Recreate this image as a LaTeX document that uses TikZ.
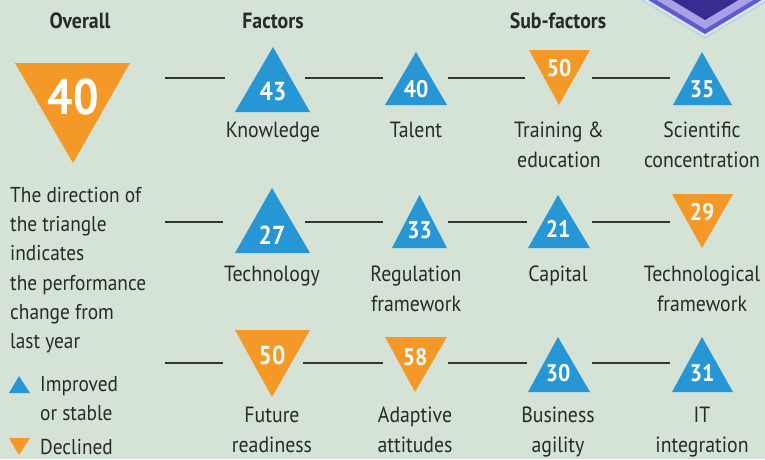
\documentclass[tikz,border=0pt]{standalone}
\usepackage{fontspec}
\setmainfont{PT Sans}[FakeStretch=0.9]
\definecolor{bg}{RGB}{213,227,215}
\definecolor{tblue}{RGB}{38,150,212}
\definecolor{torange}{RGB}{244,152,40}
\definecolor{txt}{RGB}{40,42,40}
\definecolor{linec}{RGB}{50,55,52}
\definecolor{dmcyan}{RGB}{150,220,225}
\definecolor{dmpale}{RGB}{225,225,245}
\definecolor{dmblue}{RGB}{95,90,205}
\definecolor{dmlav}{RGB}{170,160,230}
\definecolor{dmdark}{RGB}{55,45,145}
\begin{document}
\begin{tikzpicture}[x=1pt,y=-1pt,
  num/.style={text=white,font=\bfseries\fontsize{24}{24}\selectfont,inner sep=0},
  numbig/.style={num,font=\bfseries\fontsize{26}{26}\selectfont},
  lab/.style={anchor=north,align=center,inner sep=0,text=txt,font=\fontsize{22}{30}\selectfont},
  head/.style={font=\bfseries\fontsize{22}{22}\selectfont,text=txt,inner sep=0},
  slot/.style={inner sep=0,outer sep=0,minimum height=0pt,draw=none},
  conn/.style={draw=linec,line width=1.6pt}]
\fill[bg] (0,0) rectangle (765,459);
\useasboundingbox (0,0) rectangle (765,459);
% corner diamond
\begin{scope}
\clip (0,0) rectangle (765,459);
\draw[dmcyan,line width=1pt,fill=dmpale] (705-43/0.6,-5) -- (705,38) -- (705+43/0.6,-5);
\fill[dmblue] (705-39/0.6,-5) -- (705,34) -- (705+39/0.6,-5) -- cycle;
\fill[dmlav] (705-34/0.6,-5) -- (705,29) -- (705+34/0.6,-5) -- cycle;
\fill[dmdark] (705-25/0.6,-5) -- (705,20) -- (705+25/0.6,-5) -- cycle;
\end{scope}
% headers
\node[head] (h1) at (80,21) {Overall};
\node[head] (h2) at (273,21) {Factors};
\node[head] (h3) at (558,21) {Sub-factors};
% overall
\fill[torange] (15,63) -- (130,63) -- (73,163) -- cycle;
\node[num,font=\bfseries\fontsize{50}{50}\selectfont] (ov) at (73,97) {40};
% row 1
\fill[tblue] (273,47) -- (310,112) -- (235,112) -- cycle;
\node[numbig] (kn) at (273,92) {43};
\fill[tblue] (416,52) -- (447,105) -- (385,105) -- cycle;
\node[num] (ta) at (416,89) {40};
\fill[torange] (529,50) -- (590,50) -- (559,105) -- cycle;
\node[num] (tr) at (559,68) {50};
\fill[tblue] (702,52) -- (732,105) -- (673,105) -- cycle;
\node[num] (sc) at (702,89) {35};
\node[lab] (knl) at (273,122) {Knowledge};
\node[lab] (tal) at (416,122) {Talent};
\node[lab] (trl) at (559,122) {Training \&\\education};
\node[lab] (scl) at (702,122) {Scientific\\concentration};
% row 2
\fill[tblue] (272,188) -- (310,253) -- (235,253) -- cycle;
\node[numbig] (te) at (272,235) {27};
\fill[tblue] (419.5,195) -- (447,248) -- (392,248) -- cycle;
\node[num] (re) at (419.5,230) {33};
\fill[tblue] (558,195) -- (590,248) -- (528,248) -- cycle;
\node[num] (ca) at (558,229) {21};
\fill[torange] (672,194) -- (733,194) -- (702,248) -- cycle;
\node[num] (tf) at (702,212) {29};
\node[lab] (tel) at (272,266) {Technology};
\node[lab] (rel) at (416,266) {Regulation\\framework};
\node[lab] (cal) at (558,266) {Capital};
\node[lab] (tfl) at (702,266) {Technological\\framework};
% row 3
\fill[torange] (235,330) -- (310,330) -- (272,397) -- cycle;
\node[numbig] (fu) at (272,355) {50};
\fill[torange] (385,337) -- (447,337) -- (415,392) -- cycle;
\node[num] (ad) at (415,357) {58};
\fill[tblue] (558,337) -- (590,392) -- (528,392) -- cycle;
\node[num] (bu) at (558,373) {30};
\fill[tblue] (702,337) -- (733,392) -- (672,392) -- cycle;
\node[num] (it) at (702,373) {31};
\node[lab] (ful) at (272,407) {Future\\readiness};
\node[lab] (adl) at (415,407) {Adaptive\\attitudes};
\node[lab] (bul) at (558,407) {Business\\agility};
\node[lab] (itl) at (702,407) {IT\\integration};
% connector slots
\node[slot,minimum width=70pt] (s-ov) at (130,78) {};
\node[slot,minimum width=80pt] (s-kn) at (265,78) {};
\node[slot,minimum width=65pt] (s-ta) at (415.5,78) {};
\node[slot,minimum width=67pt] (s-tr) at (558.5,78) {};
\node[slot,minimum width=64pt] (s-sc) at (702,78) {};
\coordinate (r2s) at (165,222);
\node[slot,minimum width=82pt] (s-te) at (264,222) {};
\node[slot,minimum width=65pt] (s-re) at (415.5,222) {};
\node[slot,minimum width=65pt] (s-ca) at (559.5,222) {};
\node[slot,minimum width=64pt] (s-tf) at (702,222) {};
\coordinate (r3s) at (165,363);
\node[slot,minimum width=80pt] (s-fu) at (263,363) {};
\node[slot,minimum width=65pt] (s-ad) at (415.5,363) {};
\node[slot,minimum width=65pt] (s-bu) at (559.5,363) {};
\node[slot,minimum width=64pt] (s-it) at (702,363) {};
\draw[conn] (s-ov.east) -- (s-kn.west);
\draw[conn] (s-kn.east) -- (s-ta.west);
\draw[conn] (s-ta.east) -- (s-tr.west);
\draw[conn] (s-tr.east) -- (s-sc.west);
\draw[conn] (r2s) -- (s-te.west);
\draw[conn] (s-te.east) -- (s-re.west);
\draw[conn] (s-re.east) -- (s-ca.west);
\draw[conn] (s-ca.east) -- (s-tf.west);
\draw[conn] (r3s) -- (s-fu.west);
\draw[conn] (s-fu.east) -- (s-ad.west);
\draw[conn] (s-ad.east) -- (s-bu.west);
\draw[conn] (s-bu.east) -- (s-it.west);
% left explanation
\node[anchor=north west,align=left,inner sep=0,text=txt,font=\fontsize{21.5}{29.2}\selectfont] (expl) at (10,187)
  {The direction of\\the triangle\\indicates\\the performance\\change from\\last year};
% legend
\fill[tblue] (19,376) -- (30,393) -- (9,393) -- cycle;
\node[anchor=north west,align=left,inner sep=0,text=txt,font=\fontsize{21.5}{29}\selectfont] (lg1) at (40,376) {Improved\\or stable};
\fill[torange] (9,438) -- (30,438) -- (19,455) -- cycle;
\node[anchor=north west,inner sep=0,text=txt,font=\fontsize{21.5}{29}\selectfont] (lg2) at (40,439) {Declined};
\end{tikzpicture}
\end{document}
